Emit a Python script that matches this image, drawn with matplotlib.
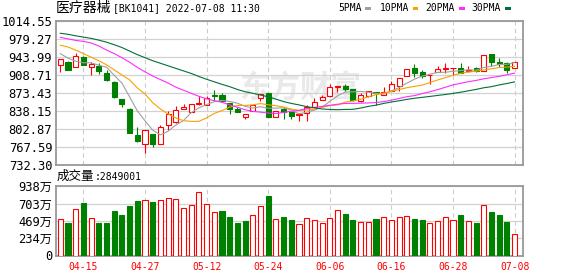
import matplotlib
matplotlib.use('Agg')
import matplotlib.pyplot as plt
from matplotlib.patches import Rectangle

# trading days 2022-04-12 .. 2022-07-08
dates = ['04-12', '04-13', '04-14', '04-15', '04-18', '04-19', '04-20', '04-21', '04-22', '04-25',
         '04-26', '04-27', '04-28', '04-29', '05-05', '05-06', '05-09', '05-10', '05-11', '05-12',
         '05-13', '05-16', '05-17', '05-18', '05-19', '05-20', '05-23', '05-24', '05-25', '05-26',
         '05-27', '05-30', '05-31', '06-01', '06-02', '06-06', '06-07', '06-08', '06-09', '06-10',
         '06-13', '06-14', '06-15', '06-16', '06-17', '06-20', '06-21', '06-22', '06-23', '06-24',
         '06-27', '06-28', '06-29', '06-30', '07-01', '07-04', '07-05', '07-06', '07-07', '07-08']

opens = [927.9, 935.1, 924.0, 943.7, 925.3, 927.3, 912.9, 895.2, 861.7, 842.1,
         790.3, 772.6, 792.9, 773.9, 811.3, 816.5, 842.7, 836.8, 851.9, 849.3,
         868.9, 869.6, 853.2, 841.4, 826.3, 838.8, 863.7, 872.9, 827.0, 841.4,
         836.2, 830.9, 834.9, 845.4, 859.1, 868.3, 885.3, 886.6, 881.4, 857.1,
         867.0, 875.5, 870.3, 878.1, 888.0, 906.3, 922.7, 914.8, 908.9, 914.2,
         920.7, 922.7, 922.0, 916.1, 922.0, 917.5, 950.2, 935.2, 931.9, 922.0]
highs = [940.5, 936.5, 952.2, 945.6, 934.5, 931.9, 918.1, 897.2, 861.7, 844.0,
         806.7, 801.4, 792.9, 809.9, 838.8, 848.6, 851.9, 851.3, 867.0, 868.3,
         879.4, 872.9, 854.5, 845.4, 832.9, 850.6, 870.9, 872.9, 837.5, 846.7,
         836.2, 834.9, 850.6, 863.0, 869.6, 891.9, 887.9, 890.6, 881.4, 872.9,
         876.8, 875.5, 885.3, 897.8, 902.4, 920.7, 930.6, 919.4, 909.6, 926.0,
         932.5, 923.4, 931.9, 927.3, 924.7, 947.6, 950.2, 941.7, 933.9, 933.8]
lows = [914.2, 919.0, 924.0, 929.3, 909.6, 911.6, 897.8, 863.7, 845.3, 795.5,
        777.2, 756.2, 768.0, 773.9, 801.4, 813.9, 842.7, 836.8, 850.6, 849.3,
        857.1, 858.5, 832.9, 836.8, 823.1, 837.5, 858.5, 827.0, 827.0, 821.7,
        822.4, 818.5, 819.1, 845.4, 859.1, 866.3, 875.5, 876.8, 857.1, 855.8,
        866.0, 849.3, 870.3, 878.1, 878.1, 906.3, 905.7, 903.0, 891.9, 914.2,
        912.9, 908.3, 912.9, 914.8, 914.2, 917.5, 927.3, 924.0, 912.9, 922.0]
closes = [939.7, 919.4, 945.7, 929.3, 930.6, 916.1, 899.8, 865.7, 852.6, 795.5,
          779.1, 801.4, 773.9, 806.0, 831.6, 839.4, 846.0, 851.3, 853.9, 863.7,
          867.0, 858.5, 841.4, 836.8, 832.9, 850.6, 870.9, 827.0, 837.5, 836.2,
          828.9, 832.2, 845.4, 856.5, 865.7, 885.3, 886.6, 882.1, 859.1, 870.3,
          876.8, 874.5, 876.2, 890.6, 902.4, 920.7, 913.5, 906.3, 909.6, 920.1,
          922.0, 923.4, 912.9, 917.9, 916.1, 947.6, 935.1, 931.2, 919.4, 933.8]

ma5 = [951.0, 942.0, 936.0, 933.0, 932.9, 928.2, 924.3, 908.3, 893.0, 865.9,
       838.5, 818.9, 800.5, 791.2, 798.4, 810.5, 819.4, 834.9, 844.4, 850.9,
       856.4, 858.9, 856.9, 853.5, 847.3, 844.0, 846.5, 843.6, 843.8, 844.4,
       840.1, 832.4, 836.0, 839.8, 845.7, 857.0, 867.9, 875.2, 875.8, 876.7,
       875.0, 872.6, 871.4, 877.7, 884.1, 892.9, 900.7, 906.7, 910.5, 914.0,
       914.3, 916.3, 917.6, 919.3, 918.5, 923.6, 925.9, 929.6, 929.9, 933.4]
ma10 = [967.5, 964.0, 958.0, 951.0, 944.0, 937.0, 929.0, 919.0, 909.0, 899.4,
        883.4, 871.6, 854.4, 842.1, 832.2, 824.5, 819.1, 817.7, 817.8, 824.6,
        833.4, 839.1, 845.9, 849.0, 849.1, 850.2, 852.7, 850.3, 848.6, 845.9,
        842.1, 839.4, 839.8, 841.8, 845.1, 848.6, 850.1, 855.6, 857.8, 861.2,
        866.0, 870.2, 873.3, 876.7, 880.4, 883.9, 886.6, 889.0, 894.1, 899.1,
        903.6, 908.5, 912.2, 914.9, 916.3, 918.9, 921.1, 923.6, 924.6, 925.9]
ma20 = [983.0, 980.0, 977.0, 975.0, 972.0, 966.0, 958.0, 951.0, 943.0, 934.0,
        924.0, 915.0, 907.0, 900.0, 893.0, 885.0, 879.0, 873.0, 867.0, 862.0,
        858.4, 855.4, 850.1, 845.5, 840.6, 837.4, 835.9, 834.0, 833.2, 835.3,
        837.7, 839.3, 842.9, 845.4, 847.1, 849.4, 851.4, 853.0, 853.2, 853.5,
        854.0, 854.8, 856.6, 859.3, 862.7, 866.2, 868.4, 872.3, 875.9, 880.1,
        884.8, 889.4, 892.7, 895.8, 898.3, 901.4, 903.9, 906.3, 909.3, 912.5]
ma30 = [991.0, 989.0, 986.0, 983.5, 981.0, 977.5, 973.5, 968.5, 963.0, 956.0,
        949.0, 943.0, 937.0, 932.0, 927.0, 922.0, 917.0, 912.0, 906.0, 900.5,
        895.5, 890.5, 886.0, 880.5, 876.0, 873.0, 869.5, 866.0, 861.5, 856.7,
        853.0, 850.1, 846.7, 844.3, 842.1, 841.1, 840.7, 841.2, 841.4, 843.9,
        847.2, 849.6, 853.0, 855.8, 858.2, 860.9, 863.2, 865.0, 866.8, 868.7,
        870.6, 872.7, 875.1, 877.8, 880.6, 883.8, 886.0, 889.4, 892.2, 895.4]

# volume in 万 (10k shares)
volume = [498, 444, 634, 707, 512, 435, 435, 598, 544, 666,
          734, 757, 720, 757, 784, 770, 648, 689, 865, 702,
          594, 598, 517, 435, 462, 553, 675, 802, 498, 517,
          476, 430, 512, 485, 444, 512, 621, 557, 476, 458,
          458, 489, 526, 485, 526, 539, 489, 476, 444, 471,
          526, 485, 544, 471, 435, 689, 584, 544, 449, 284.9]
# volume colour follows close vs previous close (1 = up)
vol_up = [1, 0, 1, 0, 1, 0, 0, 0, 0, 0,
          0, 1, 0, 1, 1, 1, 1, 1, 1, 1,
          1, 0, 0, 0, 0, 1, 1, 0, 1, 0,
          0, 1, 1, 1, 1, 1, 1, 0, 0, 1,
          1, 0, 1, 1, 1, 1, 0, 0, 1, 1,
          1, 1, 0, 1, 0, 1, 0, 0, 0, 1]

price_ticks = [732.30, 767.59, 802.87, 838.15, 873.43, 908.71, 943.99, 979.27, 1014.55]
vol_ticks = [0, 234.5, 469, 703.5, 938]
vol_tick_labels = ['0', '234万', '469万', '703万', '938万']
date_ticks = ['04-15', '04-27', '05-12', '05-24', '06-06', '06-16', '06-28', '07-08']

RED = '#ff0000'
GREEN = '#008000'
MONO = 'DejaVu Sans Mono'
CJK = 'Noto Sans CJK SC'
W, H = 578, 276

fig = plt.figure(figsize=(W / 100, H / 100), dpi=100)
ax = fig.add_axes([55.7 / W, 1 - 164.8 / H, 466.8 / W, 143.5 / H])
ax2 = fig.add_axes([55.7 / W, 1 - 255.5 / H, 466.8 / W, 69.2 / H])

n = len(closes)
xs = list(range(n))
tick_idx = [dates.index(d) for d in date_ticks]

for a in (ax, ax2):
    a.set_xlim(-0.6, n + 0.03)
    a.set_xticks(tick_idx)
    a.tick_params(length=0)
    for s in a.spines.values():
        s.set_color('#999999')
        s.set_linewidth(1.3)
    a.grid(axis='y', color='#d2d2d2', lw=0.9, ls='-')
    a.grid(axis='x', color='#cccccc', lw=0.8, ls=(0, (4, 3)))
    a.set_axisbelow(True)

# watermark
ax.text(0.523, 0.54, '东方财富', transform=ax.transAxes, ha='center', va='center',
        fontsize=22, color='#e9e9e9', family=CJK, weight='bold', zorder=0.5)

# candles
bw = 0.66
for i in xs:
    o, c = opens[i], closes[i]
    up = c >= o
    col = RED if up else GREEN
    ax.vlines(i, lows[i], highs[i], color=col, lw=0.8, zorder=2)
    ax.add_patch(Rectangle((i - bw / 2, min(o, c)), bw, abs(c - o),
                           facecolor='white' if up else col, edgecolor=col,
                           lw=0.8, zorder=3))

ax.plot(xs, ma5, color='#a0a0a0', lw=0.8, zorder=4)
ax.plot(xs, ma10, color='#f5a300', lw=0.8, zorder=4)
ax.plot(xs, ma20, color='#ff2bff', lw=0.8, zorder=4)
ax.plot(xs, ma30, color='#00703a', lw=0.8, zorder=4)

ax.set_ylim(price_ticks[0], price_ticks[-1])
ax.set_yticks(price_ticks)
ax.set_yticklabels(['%.2f' % t for t in price_ticks], family=MONO, fontsize=8.7)
ax.set_xticklabels([])
ax.tick_params(axis='y', pad=2.5)

# volume
ax2.bar(xs, volume, width=0.66,
        color=['white' if u else GREEN for u in vol_up],
        edgecolor=[RED if u else GREEN for u in vol_up], linewidth=0.8, zorder=3)
ax2.set_ylim(0, vol_ticks[-1])
ax2.set_yticks(vol_ticks)
ax2.set_yticklabels(vol_tick_labels, family=[MONO, CJK], fontsize=8.7)
ax2.set_xticklabels(date_ticks, family=MONO, fontsize=7, color=RED)
ax2.tick_params(axis='y', pad=2.5)
ax2.tick_params(axis='x', pad=4.5)

# header texts
ty = 1 - 8.3 / H
fig.text(56 / W, ty, '医疗器械', family=CJK, fontsize=10, va='center', ha='left')
fig.text(113 / W, ty, '[BK1041] 2022-07-08 11:30', family=MONO, fontsize=7, va='center', ha='left')

legend_items = [('5PMA', 338.3, 365.0, '#a0a0a0'), ('10PMA', 380.0, 412.7, '#f5a300'),
                ('20PMA', 425.7, 459.3, '#ff2bff'), ('30PMA', 471.7, 505.0, '#00703a')]
for label, tx, mx, col in legend_items:
    fig.text(tx / W, ty, label, family=MONO, fontsize=7, va='center', ha='left')
    fig.patches.append(Rectangle((mx / W, 1 - 10.0 / H), 5.7 / W, 2.8 / H,
                                 transform=fig.transFigure, facecolor=col, edgecolor='none'))

vy = 1 - 176.7 / H
fig.text(57 / W, vy, '成交量', family=CJK, fontsize=9, va='center', ha='left')
fig.text(95 / W, vy, ':2849001', family=MONO, fontsize=7, va='center', ha='left')

fig.savefig('out.png', dpi=100)
